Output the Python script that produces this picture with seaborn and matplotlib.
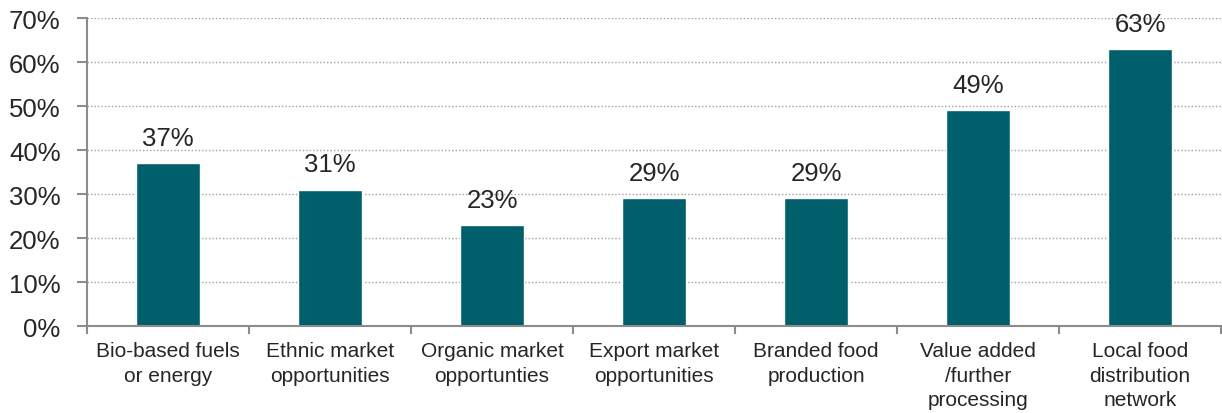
import matplotlib
matplotlib.use("Agg")
import matplotlib.pyplot as plt
import seaborn as sns
import pandas as pd
import numpy as np
from matplotlib.ticker import FixedLocator, PercentFormatter

categories = [
    "Bio-based fuels\nor energy",
    "Ethnic market\nopportunities",
    "Organic market\nopportunties",
    "Export market\nopportunities",
    "Branded food\nproduction",
    "Value added\n/further\nprocessing",
    "Local food\ndistribution\nnetwork",
]
shares = [37, 31, 23, 29, 29, 49, 63]
y_ticks = [0, 10, 20, 30, 40, 50, 60, 70]

df = pd.DataFrame({"category": categories, "share": shares})

sns.set_style("white")
plt.rcParams["font.family"] = ["Liberation Sans", "DejaVu Sans"]

text_color = "#262626"
axis_color = "#8c8c8c"
bar_color = "#005f6b"

fig = plt.figure(figsize=(12.22, 4.14), dpi=100)
ax = fig.add_axes([0.0712, 0.210, 0.928, 0.744])

sns.barplot(data=df, x="category", y="share", color=bar_color,
            saturation=1, width=0.4, ax=ax)

ax.set_xlim(-0.5, len(categories) - 0.5)
ax.set_ylim(0, 70)
ax.set_yticks(y_ticks)
ax.yaxis.set_major_formatter(PercentFormatter(decimals=0))
ax.set_xlabel("")
ax.set_ylabel("")

ax.yaxis.grid(True, linestyle=(0, (1, 1.5)), color="#a0a0a0", linewidth=1)
ax.set_axisbelow(True)

for side in ["top", "right"]:
    ax.spines[side].set_visible(False)
for side in ["left", "bottom"]:
    ax.spines[side].set_color(axis_color)
    ax.spines[side].set_linewidth(1.5)

ax.tick_params(axis="y", labelsize=18.5, colors=axis_color, labelcolor=text_color,
               length=7, width=1.5, left=True, pad=12)
ax.tick_params(axis="x", which="major", labelsize=15, labelcolor=text_color,
               length=0, pad=11)
for lbl in ax.get_xticklabels():
    lbl.set_linespacing(1.35)
ax.xaxis.set_minor_locator(FixedLocator(np.arange(-0.5, len(categories), 1.0)))
ax.tick_params(axis="x", which="minor", length=6, width=1.5, color=axis_color,
               bottom=True)

for i, v in enumerate(shares):
    ax.text(i, v + 3.0, f"{v}%", ha="center", va="bottom",
            fontsize=18.5, color=text_color)

fig.savefig("out.png", dpi=100)
